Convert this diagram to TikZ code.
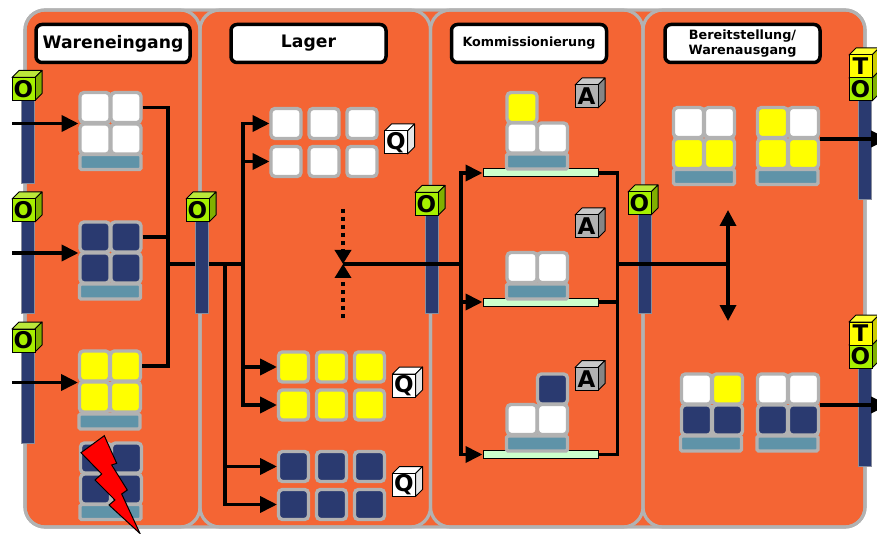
\documentclass[tikz,border=0pt]{standalone}
\usepackage{fontspec}
\setmainfont{DejaVu Sans}
\usetikzlibrary{arrows.meta}
\definecolor{zone}{HTML}{F46534}
\definecolor{frame}{HTML}{B2B2B2}
\definecolor{navy}{HTML}{2A3A70}
\definecolor{palletc}{HTML}{5F93A8}
\definecolor{shelfc}{HTML}{CCFFCC}
\definecolor{yel}{HTML}{FFFF00}
\definecolor{lime}{HTML}{A6F000}
\definecolor{limetop}{HTML}{BBE83A}
\definecolor{limeside}{HTML}{80B000}
\tikzset{
  panel/.style={draw=frame,line width=3.2pt,rounded corners=20pt},
  titlebox/.style={draw=black,fill=white,line width=3.5pt,rounded corners=6pt,inner sep=0pt,align=center,font=\bfseries,minimum height=38pt},
  cellbox/.style={draw=frame,line width=3.4pt,rounded corners=4pt,minimum size=30pt,inner sep=0pt,outer sep=1.5pt},
  palletbox/.style={draw=frame,fill=palletc,line width=3.4pt,rounded corners=1.5pt,minimum height=15pt,minimum width=61pt,inner sep=0pt,outer sep=1.5pt},
  barbox/.style={draw=frame!70!navy,fill=navy,line width=1pt,minimum width=13pt,inner sep=0pt},
  shelfbox/.style={draw=black,fill=shelfc,line width=1pt,minimum width=115pt,minimum height=8pt,inner sep=0pt},
  cubeface/.style={draw=black,line width=1pt,minimum size=23pt,inner sep=0pt,font=\fontsize{23}{23}\selectfont\bfseries},
  cubeline/.style={draw=black,line width=1pt,line join=round},
  conn/.style={draw=black,line width=3.3pt},
  trunk/.style={draw=black,line width=3.3pt,line cap=rect},
  arr/.style={draw=black,line width=3.8pt,-{Triangle[length=17pt,width=16pt]}},
  arrtwo/.style={draw=black,line width=3.5pt,{Triangle[length=16pt,width=16pt]}-{Triangle[length=16pt,width=16pt]}},
  dotarr/.style={draw=black,line width=4pt,dash pattern=on 4pt off 4pt,-{Triangle[length=14pt,width=16pt]}},
  bolt/.style={draw=black,fill=red,line width=1pt,line join=miter}
}
\newcommand{\cubeat}[7]{%
  \draw[cubeline,fill=#5] (#2-11.5,#3-11.5) -- ++(7,-7) -- ++(23,0) -- ++(-7,7) -- cycle;
  \draw[cubeline,fill=#6] (#2+11.5,#3-11.5) -- ++(7,-7) -- ++(0,23) -- ++(-7,7) -- cycle;
  \node[cubeface,fill=#4] (#1) at (#2,#3) {#7};
}
\newcommand{\ocube}[3]{\cubeat{#1}{#2}{#3}{lime}{limetop}{limeside}{O}}
\newcommand{\tcube}[3]{\cubeat{#1}{#2}{#3}{yel}{yel!80!white}{yel!80!black}{T}}
\newcommand{\qcube}[3]{\cubeat{#1}{#2}{#3}{white}{white}{black!10}{Q}}
\newcommand{\acube}[3]{\cubeat{#1}{#2}{#3}{frame}{frame!70!white}{frame!75!black}{A}}
\newcommand{\cellat}[4]{\node[cellbox,fill=#4] (#1) at (#2,#3) {};}
\newcommand{\palat}[3]{\node[palletbox] (#1) at (#2,#3) {};}
\begin{document}
\begin{tikzpicture}[x=1pt,y=-1pt]
\useasboundingbox (0,0) rectangle (877,534);
% zones
\draw[panel,fill=zone] (25,10) rectangle (865,527);
\draw[panel] (25,10) rectangle (200,527);
\draw[panel] (200,10) rectangle (430.5,527);
\draw[panel] (430.5,10) rectangle (643,527);
\draw[panel] (643,10) rectangle (865,527);
% titles
\node[titlebox,minimum width=154pt,font=\fontsize{17.2}{18}\selectfont\bfseries] (t1) at (113,43.5) {Wareneingang};
\node[titlebox,minimum width=155pt,font=\fontsize{17.2}{18}\selectfont\bfseries] (t2) at (308.5,43.5) {Lager};
\node[titlebox,minimum width=155pt,font=\fontsize{12.7}{14}\selectfont\bfseries] (t3) at (529,43.5) {Kommissionierung};
\node[titlebox,minimum width=155pt,font=\fontsize{12.8}{15}\selectfont\bfseries] (t4) at (742.5,43.5) {Bereitstellung/\\Warenausgang};
% bars behind connectors
\node[barbox,minimum height=84pt] (b1) at (27.5,142) {};
\node[barbox,minimum height=92pt] (b2) at (27.5,267) {};
\node[barbox,minimum height=92pt] (b3) at (27.5,397) {};
\node[barbox,minimum height=98pt] (b5) at (431.5,264) {};
\node[barbox,minimum height=98pt] (b6) at (644.5,264) {};
\node[barbox,minimum height=99pt] (b7) at (865,150.5) {};
\node[barbox,minimum height=98pt] (b8) at (865,417) {};
% goods receipt stacks
\palat{wp1}{110.5}{162}
\cellat{wa1}{95}{107.5}{white}\cellat{wa2}{126}{107.5}{white}\cellat{wa3}{95}{139}{white}\cellat{wa4}{126}{139}{white}
\palat{wp2}{110}{291.5}
\cellat{wb1}{95}{237}{navy}\cellat{wb2}{126}{237}{navy}\cellat{wb3}{95}{268}{navy}\cellat{wb4}{126}{268}{navy}
\palat{wp3}{109.5}{421.5}
\cellat{wc1}{94.5}{366}{yel}\cellat{wc2}{125.5}{366}{yel}\cellat{wc3}{94.5}{397}{yel}\cellat{wc4}{125.5}{397}{yel}
\palat{wp4}{110.5}{512}
\cellat{wd1}{95.5}{458}{navy}\cellat{wd2}{126.5}{458}{navy}\cellat{wd3}{95.5}{489}{navy}\cellat{wd4}{126.5}{489}{navy}
% storage
\cellat{la1}{286}{123.5}{white}\cellat{la2}{324}{123.5}{white}\cellat{la3}{362}{123.5}{white}
\cellat{la4}{286}{161.5}{white}\cellat{la5}{324}{161.5}{white}\cellat{la6}{362}{161.5}{white}
\cellat{lb1}{293.5}{367}{yel}\cellat{lb2}{331.5}{367}{yel}\cellat{lb3}{369.5}{367}{yel}
\cellat{lb4}{293.5}{405}{yel}\cellat{lb5}{331.5}{405}{yel}\cellat{lb6}{369.5}{405}{yel}
\cellat{lc1}{293.5}{466.5}{navy}\cellat{lc2}{331.5}{466.5}{navy}\cellat{lc3}{369.5}{466.5}{navy}
\cellat{lc4}{293.5}{504.5}{navy}\cellat{lc5}{331.5}{504.5}{navy}\cellat{lc6}{369.5}{504.5}{navy}
% shelves and picking
\node[shelfbox] (s1) at (540.5,173) {};
\node[shelfbox] (s2) at (540.5,302) {};
\node[shelfbox] (s3) at (540.5,454.5) {};
\palat{kp1}{537}{161.5}
\cellat{ka1}{522}{107.5}{yel}\cellat{ka2}{522}{138}{white}\cellat{ka3}{552.5}{138}{white}
\palat{kp2}{537}{291.5}
\cellat{kb1}{522}{267.5}{white}\cellat{kb2}{552.5}{267.5}{white}
\palat{kp3}{537}{443.5}
\cellat{kc1}{552.5}{389}{navy}\cellat{kc2}{522}{419.5}{white}\cellat{kc3}{552.5}{419.5}{white}
% dispatch
\palat{bp1}{704}{177}
\cellat{ba1}{688.5}{122.5}{white}\cellat{ba2}{719.5}{122.5}{white}\cellat{ba3}{688.5}{153.5}{yel}\cellat{ba4}{719.5}{153.5}{yel}
\palat{bp2}{787.5}{177}
\cellat{bb1}{772.5}{122.5}{yel}\cellat{bb2}{803.5}{122.5}{white}\cellat{bb3}{772.5}{153.5}{yel}\cellat{bb4}{803.5}{153.5}{yel}
\palat{bp3}{711}{443.5}
\cellat{bc1}{696.5}{389}{white}\cellat{bc2}{727.5}{389}{yel}\cellat{bc3}{696.5}{420}{navy}\cellat{bc4}{727.5}{420}{navy}
\palat{bp4}{787.5}{443.5}
\cellat{bd1}{772.5}{389}{white}\cellat{bd2}{803.5}{389}{white}\cellat{bd3}{772.5}{420}{navy}\cellat{bd4}{803.5}{420}{navy}
% junctions
\coordinate (in1) at (12,123.5);
\coordinate (in2) at (12,253);
\coordinate (in3) at (12,382.5);
\coordinate (wj) at (168,264);
\coordinate (lj) at (243,264);
\coordinate (lk) at (225,264);
\coordinate (mid) at (343,264);
\coordinate (dtop) at (343,209);
\coordinate (dbot) at (343,318);
\coordinate (kl) at (461,264);
\coordinate (kr) at (617.5,264);
\coordinate (aup) at (728,210);
\coordinate (adn) at (728,321);
\coordinate (aj) at (728,264);
\coordinate (o1) at (888,139);
\coordinate (o2) at (888,405);
\coordinate (la) at (243,123.5);
\coordinate (lb) at (243,161.5);
\coordinate (lc) at (243,367);
\coordinate (ld) at (243,405);
\coordinate (le) at (225,466.5);
\coordinate (lf) at (225,504.5);
% connectors
\draw[arr] (in1) -- (in1 -| wa1.west);
\draw[arr] (in2) -- (in2 -| wb1.west);
\draw[arr] (in3) -- (in3 -| wc1.west);
\draw[trunk] (wj |- wa2) -- (wj |- wc2);
\draw[conn] (wa2.east) -- (wj |- wa2);
\draw[conn] (wb2.east) -- (wj |- wb2);
\draw[conn] (wc2.east) -- (wj |- wc2);
\draw[conn] (wj) -- (lj);
\draw[trunk] (la) -- (ld);
\draw[trunk] (lk) -- (lf);
\draw[arr] (la) -- (la -| la1.west);
\draw[arr] (lb) -- (lb -| la4.west);
\draw[arr] (lc) -- (lc -| lb1.west);
\draw[arr] (ld) -- (ld -| lb4.west);
\draw[arr] (le) -- (le -| lc1.west);
\draw[arr] (lf) -- (lf -| lc4.west);
\draw[conn] (mid) -- (kl);
\draw[dotarr] (dtop) -- (mid);
\draw[dotarr] (dbot) -- (mid);
\draw[trunk] (kl |- s1) -- (kl |- s3);
\draw[arr] (kl |- s1) -- (s1.west);
\draw[arr] (kl |- s2) -- (s2.west);
\draw[arr] (kl |- s3) -- (s3.west);
\draw[trunk] (kr |- s1) -- (kr |- s3);
\draw[conn] (s1.east) -- (kr |- s1);
\draw[conn] (s2.east) -- (kr |- s2);
\draw[conn] (s3.east) -- (kr |- s3);
\draw[conn] (kr) -- (aj);
\draw[arrtwo] (aup) -- (adn);
\draw[arr] (bb4.east |- o1) -- (o1);
\draw[arr] (bd4.east |- o2) -- (o2);
% bar in front of its connector
\node[barbox,minimum height=98pt] (b4) at (201.5,264) {};
% lightning
\draw[bolt] (104.3,435.7) -- (81,452.7) -- (101.7,474) -- (95,480) -- (115,500) -- (109,505) -- (140,533.5) -- (121.7,494) -- (127.3,490) -- (111.7,465) -- (116.7,463.3) -- cycle;
% cubes
\ocube{c1}{23.5}{89}
\ocube{c2}{23.5}{210.5}
\ocube{c3}{23.5}{340.5}
\ocube{c4}{197.5}{210.5}
\ocube{c5}{426.5}{204}
\ocube{c6}{639.5}{203.5}
\ocube{c7}{860.5}{89.5}
\tcube{c8}{860.5}{66.5}
\ocube{c9}{860.5}{356.5}
\tcube{c10}{860.5}{333.5}
\qcube{q1}{396}{142.5}
\qcube{q2}{404}{385.5}
\qcube{q3}{404}{485}
\acube{a1}{586.5}{96.5}
\acube{a2}{586.5}{226.5}
\acube{a3}{586.5}{379}
\end{tikzpicture}
\end{document}
